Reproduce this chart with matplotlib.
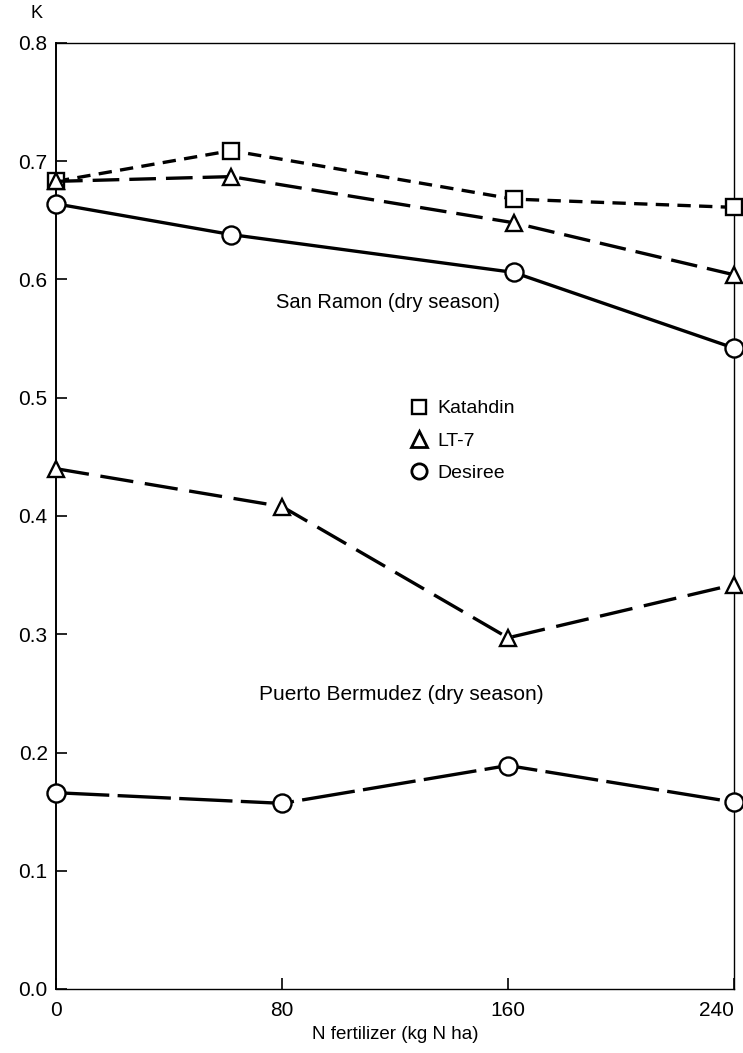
import matplotlib
matplotlib.use("Agg")
import matplotlib.pyplot as plt
from matplotlib.lines import Line2D

plt.rcParams["font.family"] = ["Liberation Sans", "DejaVu Sans"]

# San Ramon (dry season)
sr_x = [0, 62, 162, 240]
sr_katahdin = [0.683, 0.709, 0.668, 0.661]
sr_lt7 = [0.683, 0.687, 0.648, 0.604]
sr_desiree = [0.664, 0.638, 0.606, 0.542]

# Puerto Bermudez (dry season)
pb_x = [0, 80, 160, 240]
pb_lt7 = [0.440, 0.408, 0.297, 0.342]
pb_desiree = [0.166, 0.157, 0.189, 0.158]

x_ticks = [0, 80, 160, 240]
y_ticks = [0.0, 0.1, 0.2, 0.3, 0.4, 0.5, 0.6, 0.7, 0.8]

fig = plt.figure(figsize=(7.43, 10.53), dpi=100)
ax = fig.add_axes([56 / 743, 1 - 989 / 1053, (734 - 56) / 743, (989 - 43) / 1053])

mk = dict(markerfacecolor="white", markeredgecolor="black", markeredgewidth=1.7,
          color="black", linewidth=2.4, clip_on=False)

ax.plot(sr_x, sr_katahdin, marker="s", markersize=11, dashes=(4, 2.5), zorder=3, **mk)
ax.plot(sr_x, sr_lt7, marker="^", markersize=11, dashes=(8, 3), zorder=3, **mk)
ax.plot(sr_x, sr_desiree, marker="o", markersize=13, linestyle="-", zorder=3, **mk)
ax.plot(pb_x, pb_lt7, marker="^", markersize=11, dashes=(10, 3.5), zorder=3, **mk)
ax.plot(pb_x, pb_desiree, marker="o", markersize=13, dashes=(16, 2.5), zorder=3, **mk)

ax.set_xlim(0, 240)
ax.set_ylim(0, 0.8)
ax.set_xticks(x_ticks)
ax.set_yticks(y_ticks)
ax.set_yticklabels(["%.1f" % v for v in y_ticks])
ax.tick_params(direction="in", length=8, width=1.2, labelsize=15, pad=6)
ax.tick_params(axis="x", pad=9)
xl = ax.get_xticklabels()
xl[-1].set_horizontalalignment("right")
for s in ax.spines.values():
    s.set_linewidth(1.0)
ax.spines["left"].set_linewidth(1.4)

ax.set_xlabel("N fertilizer (kg N ha)", fontsize=13.5, labelpad=4)

fig.text(36 / 743, 1 - 14 / 1053, "K", fontsize=13, ha="center", va="center")
ax.text(0.49, 1 - (303 - 43) / 946, "San Ramon (dry season)", transform=ax.transAxes,
        fontsize=14.5, ha="center", va="center")
ax.text(0.51, 1 - (694 - 43) / 946, "Puerto Bermudez (dry season)", transform=ax.transAxes,
        fontsize=15, ha="center", va="center")

handles = [
    Line2D([], [], linestyle="none", marker="s", markersize=10, markerfacecolor="white",
           markeredgecolor="black", markeredgewidth=1.7, label="Katahdin"),
    Line2D([], [], linestyle="none", marker="^", markersize=11, markerfacecolor="white",
           markeredgecolor="black", markeredgewidth=2.0, label="LT-7"),
    Line2D([], [], linestyle="none", marker="o", markersize=11, markerfacecolor="white",
           markeredgecolor="black", markeredgewidth=2.0, label="Desiree"),
]
fig.legend(handles=handles, loc="upper left", bbox_to_anchor=(400 / 743, 1 - 390 / 1053),
           frameon=False, fontsize=14, handlelength=1.0, handletextpad=0.4,
           labelspacing=0.75, borderpad=0)

fig.savefig("out.png", dpi=100)
